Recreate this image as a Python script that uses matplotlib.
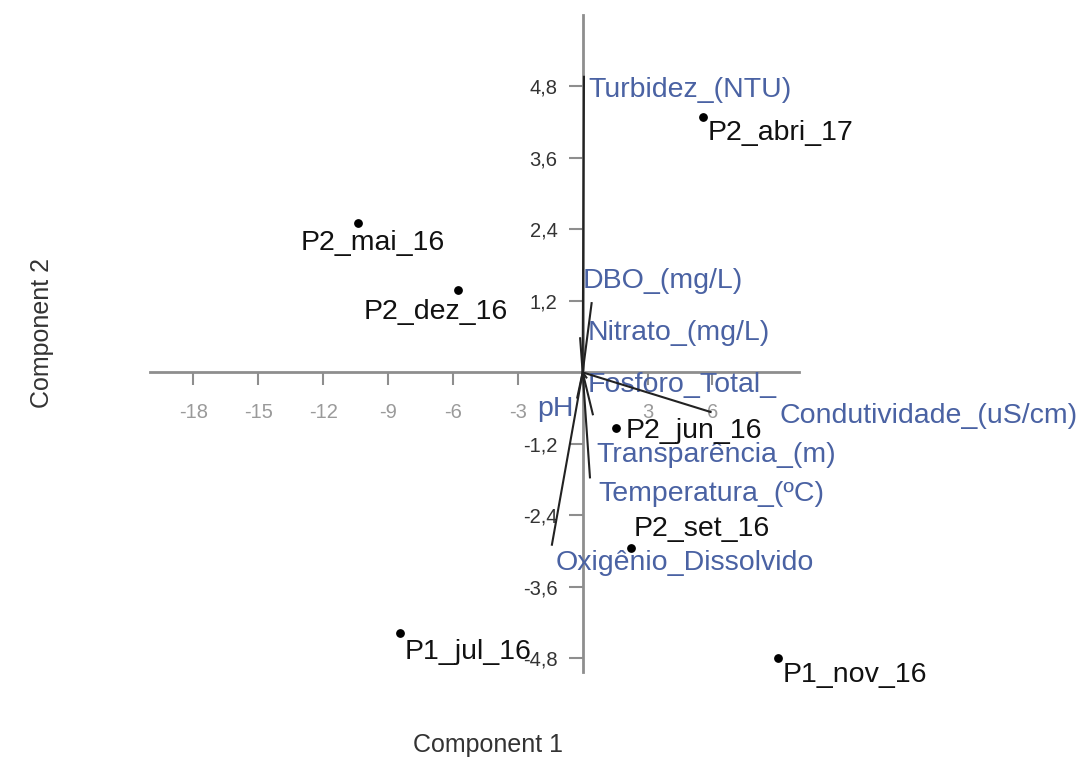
"""
PCA biplot (Component 1 x Component 2) of water quality samples.
"""

import matplotlib.pyplot as plt

plt.rcParams['font.family'] = ['Liberation Sans', 'DejaVu Sans']

# sample scores
sample_names = ['P2_abri_17', 'P2_mai_16', 'P2_dez_16', 'P2_jun_16',
                'P2_set_16', 'P1_jul_16', 'P1_nov_16']
pc1 = [5.56, -10.38, -5.76, 1.54, 2.23, -8.44, 9.02]
pc2 = [4.28, 2.50, 1.38, -0.94, -2.94, -4.38, -4.80]

# variable loadings (scaled)
var_names = ['Turbidez_(NTU)', 'DBO_(mg/L)', 'Nitrato_(mg/L)', 'Fosforo_Total_',
             'pH', 'Condutividade_(uS/cm)', 'Transparência_(m)',
             'Temperatura_(ºC)', 'Oxigênio_Dissolvido']
load1 = [0.06, 0.42, -0.12, 0.20, -0.26, 5.96, 0.48, 0.34, -1.43]
load2 = [4.98, 1.18, 0.59, -0.10, -0.44, -0.67, -0.72, -1.78, -2.91]

xticks = [-18, -15, -12, -9, -6, -3, 3, 6]
yticks = [-4.8, -3.6, -2.4, -1.2, 1.2, 2.4, 3.6, 4.8]

# label offsets in pixels (dx right, dy up) and alignment
pt = 0.72
sample_off = {'P2_abri_17': (5, -16, 'left'), 'P2_mai_16': (15, -20, 'center'),
              'P2_dez_16': (-22, -22, 'center'), 'P2_jun_16': (10, -3, 'left'),
              'P2_set_16': (3, 19, 'left'), 'P1_jul_16': (5, -19, 'left'),
              'P1_nov_16': (5, -17, 'left')}
var_off = {'Turbidez_(NTU)': (4, -14, 'left'), 'DBO_(mg/L)': (-9, 21, 'left'),
           'Nitrato_(mg/L)': (8, 4, 'left'), 'Fosforo_Total_': (1, -7, 'left'),
           'pH': (-3, -10, 'right'), 'Condutividade_(uS/cm)': (68, -4, 'left'),
           'Transparência_(m)': (3, -40, 'left'), 'Temperatura_(ºC)': (8, -16, 'left'),
           'Oxigênio_Dissolvido': (4, -17, 'left')}

axis_col = '#8e8e8e'
var_col = '#4a62a3'

fig = plt.figure(figsize=(10.8, 7.65), dpi=100)
ax = fig.add_axes([150/1080, 1 - 672/765, 649/1080, 657/765])
ax.set_xlim(-20, 10)
ax.set_ylim(-5.03, 6.0)

for s in ['top', 'right']:
    ax.spines[s].set_visible(False)
ax.spines['left'].set_position(('data', 0))
ax.spines['bottom'].set_position(('data', 0))
for s in ['left', 'bottom']:
    ax.spines[s].set_color(axis_col)
    ax.spines[s].set_linewidth(2)

ax.set_xticks(xticks)
ax.set_xticklabels([str(v) for v in xticks])
ax.set_yticks(yticks)
ax.set_yticklabels([('%.1f' % v).replace('.', ',') for v in yticks])
ax.tick_params(axis='x', direction='out', length=9, width=1.5, color=axis_col,
               pad=13, labelsize=14.5, labelcolor='#9a9a9a')
ax.tick_params(axis='y', direction='out', length=10, width=1.5, color=axis_col,
               pad=8, labelsize=14.5, labelcolor='#333333')
ax.patch.set_alpha(0)

# loading vectors
for name, a, b in zip(var_names, load1, load2):
    ax.plot([0, a], [0, b], color='#222222', lw=1.5, solid_capstyle='butt', zorder=3)
    dx, dy, ha = var_off[name]
    ax.annotate(name, (a, b), xytext=(dx*pt, dy*pt), textcoords='offset points',
                ha=ha, va='center', fontsize=20.5, color=var_col, annotation_clip=False)

# sample scores
ax.scatter(pc1, pc2, s=28, color='black', zorder=4, clip_on=False)
for name, a, b in zip(sample_names, pc1, pc2):
    dx, dy, ha = sample_off[name]
    ax.annotate(name, (a, b), xytext=(dx*pt, dy*pt), textcoords='offset points',
                ha=ha, va='center', fontsize=20.5, color='#111111', annotation_clip=False)

fig.text(488/1080, 1 - 745/765, 'Component 1', ha='center', va='center',
         fontsize=18, color='#333333')
fig.text(42/1080, 1 - 333/765, 'Component 2', ha='center', va='center',
         rotation=90, fontsize=18, color='#333333')

plt.savefig('out.png', dpi=100)
